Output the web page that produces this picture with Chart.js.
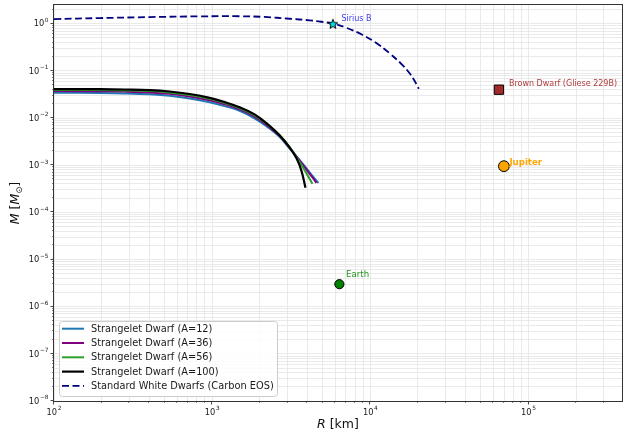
<!DOCTYPE html>
<html>
<head>
<meta charset="utf-8">
<script src="https://cdn.jsdelivr.net/npm/chart.js@4.4.1/dist/chart.umd.min.js"></script>
<style>
  html, body { margin: 0; padding: 0; background: #ffffff; }
  canvas { display: block; }
</style>
</head>
<body>
<canvas id="mr" width="623" height="434"></canvas>
<script>
// Mass–radius relations: radius in km, mass in solar masses.
const radiusA12  = [100, 195, 281, 404, 539, 721, 964, 1199, 1491, 1854, 2306, 2666, 3083, 3565, 3947, 4306, 4698];
const massA12    = [0.03435, 0.03402, 0.03336, 0.03192, 0.02966, 0.02599, 0.02159, 0.01793, 0.01425, 0.00988, 0.00606, 0.00400, 0.00228, 0.00130, 0.000859, 0.000595, 0.000423];

const radiusA36  = [100, 195, 281, 404, 539, 721, 964, 1199, 1491, 1854, 2306, 2666, 3083, 3565, 3947, 4306, 4564];
const massA36    = [0.03732, 0.03695, 0.03642, 0.03502, 0.03270, 0.02880, 0.02381, 0.01958, 0.01533, 0.01074, 0.00636, 0.00420, 0.00236, 0.001269, 0.000806, 0.000553, 0.000423];

const radiusA56  = [100, 195, 281, 404, 539, 721, 964, 1199, 1491, 1854, 2306, 2666, 3083, 3565, 3947, 4306];
const massA56    = [0.03937, 0.03918, 0.03861, 0.03732, 0.03485, 0.03084, 0.02562, 0.02086, 0.01626, 0.01144, 0.00668, 0.00441, 0.002454, 0.001179, 0.000672, 0.000403];

const radiusA100 = [100, 195, 281, 404, 539, 721, 964, 1199, 1491, 1854, 2306, 2666, 3083, 3413, 3669, 3890];
const massA100   = [0.04114, 0.04094, 0.04034, 0.03918, 0.03659, 0.03238, 0.02690, 0.02180, 0.01691, 0.01201, 0.006846, 0.004305, 0.002395, 0.001399, 0.000760, 0.000331];

// Carbon white dwarf sequence
const wdRadius = [100, 195, 404, 834, 1491, 2144, 3083, 4122, 4909, 5843, 7055, 8903, 10911, 13183, 15922, 17625, 18950, 19800, 20230];
const wdMass   = [1.258, 1.321, 1.387, 1.436, 1.443, 1.394, 1.277, 1.181, 1.103, 1.000, 0.8226, 0.5843, 0.3895, 0.2389, 0.1349, 0.0912, 0.0633, 0.0484, 0.0418];

// Reference objects
const objectNames  = ['Sirius B', 'Brown Dwarf (Gliese 229B)', 'Jupiter', 'Earth'];
const objectRadius = [5800, 65000, 69911, 6371];
const objectMass   = [1.0, 0.04, 9.55e-4, 3.0e-6];

// Axis ranges and labelled decades (label = "10" with the exponent raised)
const xRange = [100, 3.9e5];
const yRange = [1e-8, 2.5];
const xTickValues = [1e2, 1e3, 1e4, 1e5];
const xTickExponents = ['2', '3', '4', '5'];
const yTickValues = [1e-8, 1e-7, 1e-6, 1e-5, 1e-4, 1e-3, 1e-2, 1e-1, 1e0];
const yTickExponents = ['−8', '−7', '−6', '−5', '−4', '−3', '−2', '−1', '0'];

const FONT = 'DejaVu Sans';
Chart.defaults.font.family = FONT;

function pairs(xs, ys) { return xs.map((x, i) => ({ x: x, y: ys[i] })); }

function logTicks(min, max) {
  const out = [];
  for (let e = Math.floor(Math.log10(min)); e <= Math.ceil(Math.log10(max)); e++) {
    for (let k = 1; k <= 9; k++) {
      const v = k * Math.pow(10, e);
      if (v >= min * 0.9999 && v <= max * 1.0001) out.push({ value: v });
    }
  }
  return out;
}
function isDecade(v) { const l = Math.log10(v); return Math.abs(l - Math.round(l)) < 1e-6; }
// keep the plot frame at a fixed place: no extra padding from edge labels
function noPadding(s) { s.paddingTop = 0; s.paddingBottom = 0; s.paddingLeft = 0; s.paddingRight = 0; }

// "10" followed by a raised exponent
function drawPower(ctx, exp, x, y, align) {
  const base = '8.3px ' + FONT, sup = '5.8px ' + FONT;
  ctx.font = base; const wb = ctx.measureText('10').width;
  ctx.font = sup;  const ws = ctx.measureText(exp).width;
  const w = wb + 0.6 + ws;
  const left = align === 'right' ? x - w : x - w / 2;
  ctx.textAlign = 'left';
  ctx.textBaseline = 'middle';
  ctx.font = base; ctx.fillText('10', left, y);
  ctx.font = sup;  ctx.fillText(exp, left + wb + 0.6, y - 3.6);
}

// Filled five-point star marker
function starMarker(size, fill, stroke) {
  const c = document.createElement('canvas');
  c.width = size; c.height = size;
  const g = c.getContext('2d');
  const cx = size / 2, cy = size / 2 + 0.5, R = size / 2 - 1, r = R * 0.42;
  g.beginPath();
  for (let i = 0; i < 10; i++) {
    const a = -Math.PI / 2 + i * Math.PI / 5;
    const rr = i % 2 ? r : R;
    g.lineTo(cx + rr * Math.cos(a), cy + rr * Math.sin(a));
  }
  g.closePath();
  g.fillStyle = fill; g.fill();
  g.lineWidth = 1; g.strokeStyle = stroke; g.stroke();
  return c;
}

const curve = (label, xs, ys, color, width, order, dash) => ({
  label: label,
  data: pairs(xs, ys),
  showLine: true,
  borderColor: color,
  backgroundColor: color,
  borderWidth: width,
  borderDash: dash || [],
  borderJoinStyle: 'round',
  pointRadius: 0,
  pointHoverRadius: 0,
  tension: 0.4,
  order: order,
  inLegend: true
});

const markerStyles = [
  { pointStyle: starMarker(12, '#00e5ee', '#000000'), radius: 5, fill: '#00e5ee' },
  { pointStyle: 'rect', radius: 6.6, fill: '#a52a2a' },
  { pointStyle: 'circle', radius: 5.4, fill: '#ffa500' },
  { pointStyle: 'circle', radius: 4.6, fill: '#008000' }
];
// Annotation text styles (offset from marker, in px)
const noteStyles = [
  { dx: 8.5, dy: -5, color: '#3a3af0', font: '8px ' + FONT },
  { dx: 10, dy: -5.4, color: '#b03c3c', font: '8px ' + FONT },
  { dx: 5.5, dy: -3.5, color: '#ffa500', font: 'bold 8.6px ' + FONT },
  { dx: 6.7, dy: -9, color: '#1f951f', font: '8.6px ' + FONT }
];

const objectSets = objectNames.map((name, i) => ({
  label: name,
  data: [{ x: objectRadius[i], y: objectMass[i] }],
  showLine: false,
  pointStyle: markerStyles[i].pointStyle,
  pointRadius: markerStyles[i].radius,
  pointHoverRadius: markerStyles[i].radius,
  pointBackgroundColor: markerStyles[i].fill,
  pointBorderColor: '#000000',
  pointBorderWidth: 1,
  order: 0,
  inLegend: false,
  noteIndex: i
}));

const datasets = [
  curve('Strangelet Dwarf (A=12)', radiusA12, massA12, '#1f77b4', 2, 5),
  curve('Strangelet Dwarf (A=36)', radiusA36, massA36, '#800080', 2, 4),
  curve('Strangelet Dwarf (A=56)', radiusA56, massA56, '#2ca02c', 2, 3),
  curve('Strangelet Dwarf (A=100)', radiusA100, massA100, '#000000', 2.2, 2),
  curve('Standard White Dwarfs (Carbon EOS)', wdRadius, wdMass, '#000080', 1.8, 6, [7, 3.5])
].concat(objectSets);

// Frame, ticks and tick labels, axis titles, annotations and legend
const decorations = {
  id: 'decorations',
  afterDatasetsDraw(chart) {
    const ctx = chart.ctx;
    const a = chart.chartArea;
    const xs = chart.scales.x, ys = chart.scales.y;

    // annotations next to the reference objects
    chart.data.datasets.forEach((ds, di) => {
      if (ds.noteIndex === undefined) return;
      const p = chart.getDatasetMeta(di).data[0];
      const s = noteStyles[ds.noteIndex];
      ctx.save();
      ctx.font = s.font;
      ctx.fillStyle = s.color;
      ctx.textAlign = 'left';
      ctx.textBaseline = 'middle';
      ctx.fillText(ds.label, p.x + s.dx, p.y + s.dy);
      ctx.restore();
    });

    // frame
    ctx.save();
    ctx.strokeStyle = '#333333';
    ctx.lineWidth = 1;
    ctx.strokeRect(a.left - 0.5, a.top - 0.5, a.right - a.left + 1, a.bottom - a.top + 1);

    // tick marks
    ctx.strokeStyle = '#333333';
    xs.ticks.forEach(t => {
      const px = Math.round(xs.getPixelForValue(t.value)) - 0.5;
      const major = isDecade(t.value);
      ctx.lineWidth = major ? 0.9 : 0.6;
      ctx.beginPath();
      ctx.moveTo(px, a.bottom);
      ctx.lineTo(px, a.bottom + (major ? 3.5 : 2));
      ctx.stroke();
    });
    ys.ticks.forEach(t => {
      const py = Math.round(ys.getPixelForValue(t.value)) - 0.5;
      const major = isDecade(t.value);
      ctx.lineWidth = major ? 0.9 : 0.6;
      ctx.beginPath();
      ctx.moveTo(a.left, py);
      ctx.lineTo(a.left - (major ? 3.5 : 2), py);
      ctx.stroke();
    });

    // tick labels
    ctx.fillStyle = '#222222';
    xTickValues.forEach((v, i) => {
      drawPower(ctx, xTickExponents[i], xs.getPixelForValue(v), a.bottom + 11.5, 'center');
    });
    yTickValues.forEach((v, i) => {
      drawPower(ctx, yTickExponents[i], a.left - 5.5, ys.getPixelForValue(v) + 0.5, 'right');
    });
    ctx.restore();

    // axis titles
    ctx.save();
    ctx.fillStyle = '#111111';
    ctx.textBaseline = 'middle';
    const ital = 'italic 12.5px ' + FONT, reg = '12.5px ' + FONT;
    // x title
    ctx.font = ital; const wR = ctx.measureText('R').width;
    ctx.font = reg;  const wK = ctx.measureText(' [km]').width;
    let x0 = (a.left + a.right) / 2 - (wR + wK) / 2;
    ctx.textAlign = 'left';
    ctx.font = ital; ctx.fillText('R', x0, 425);
    ctx.font = reg;  ctx.fillText(' [km]', x0 + wR, 425);
    // y title (rotated)
    ctx.translate(16, (a.top + a.bottom) / 2);
    ctx.rotate(-Math.PI / 2);
    const sub = '8.5px ' + FONT;
    ctx.font = ital; const wM = ctx.measureText('M').width;
    ctx.font = reg;  const wB = ctx.measureText(' [').width, wE = ctx.measureText(']').width;
    ctx.font = sub;  const wS = ctx.measureText('⊙').width;
    const total = wM + wB + wM + wS + wE;
    let cx = -total / 2;
    ctx.font = ital; ctx.fillText('M', cx, 0); cx += wM;
    ctx.font = reg;  ctx.fillText(' [', cx, 0); cx += wB;
    ctx.font = ital; ctx.fillText('M', cx, 0); cx += wM;
    ctx.font = sub;  ctx.fillText('⊙', cx, 3.5); cx += wS;
    ctx.font = reg;  ctx.fillText(']', cx, 0);
    ctx.restore();

    // legend
    const entries = chart.data.datasets.filter(d => d.inLegend);
    const bx = 59.5, by = 321.5, bw = 218, bh = 75, rowH = 14.3;
    ctx.save();
    ctx.beginPath();
    ctx.roundRect(bx, by, bw, bh, 3);
    ctx.fillStyle = 'rgba(255,255,255,0.85)';
    ctx.fill();
    ctx.strokeStyle = '#cccccc';
    ctx.lineWidth = 1;
    ctx.stroke();
    ctx.font = '9.8px ' + FONT;
    ctx.textAlign = 'left';
    ctx.textBaseline = 'middle';
    entries.forEach((d, i) => {
      const y = 328.7 + i * rowH;
      ctx.beginPath();
      ctx.setLineDash(d.borderDash || []);
      ctx.strokeStyle = d.borderColor;
      ctx.lineWidth = d.borderWidth;
      ctx.moveTo(62, y);
      ctx.lineTo(84, y);
      ctx.stroke();
      ctx.setLineDash([]);
      ctx.fillStyle = '#1a1a1a';
      ctx.fillText(d.label, 91, y + 0.5);
    });
    ctx.restore();
  }
};

new Chart(document.getElementById('mr'), {
  type: 'scatter',
  data: { datasets: datasets },
  plugins: [decorations],
  options: {
    responsive: false,
    animation: false,
    events: [],
    layout: { autoPadding: false, padding: { top: 5, right: 1, left: 0, bottom: 0 } },
    plugins: { legend: { display: false }, tooltip: { enabled: false } },
    scales: {
      x: {
        type: 'logarithmic',
        min: xRange[0],
        max: xRange[1],
        afterBuildTicks: s => { s.ticks = logTicks(xRange[0], xRange[1]); },
        afterFit: s => { s.height = 33; noPadding(s); },
        border: { display: false },
        grid: { color: '#e4e4e4', lineWidth: 0.8, drawTicks: false },
        ticks: { display: false, autoSkip: false }
      },
      y: {
        type: 'logarithmic',
        min: yRange[0],
        max: yRange[1],
        afterBuildTicks: s => { s.ticks = logTicks(yRange[0], yRange[1]); },
        afterFit: s => { s.width = 54; noPadding(s); },
        border: { display: false },
        grid: { color: '#e4e4e4', lineWidth: 0.8, drawTicks: false },
        ticks: { display: false, autoSkip: false }
      }
    }
  }
});
</script>
</body>
</html>
